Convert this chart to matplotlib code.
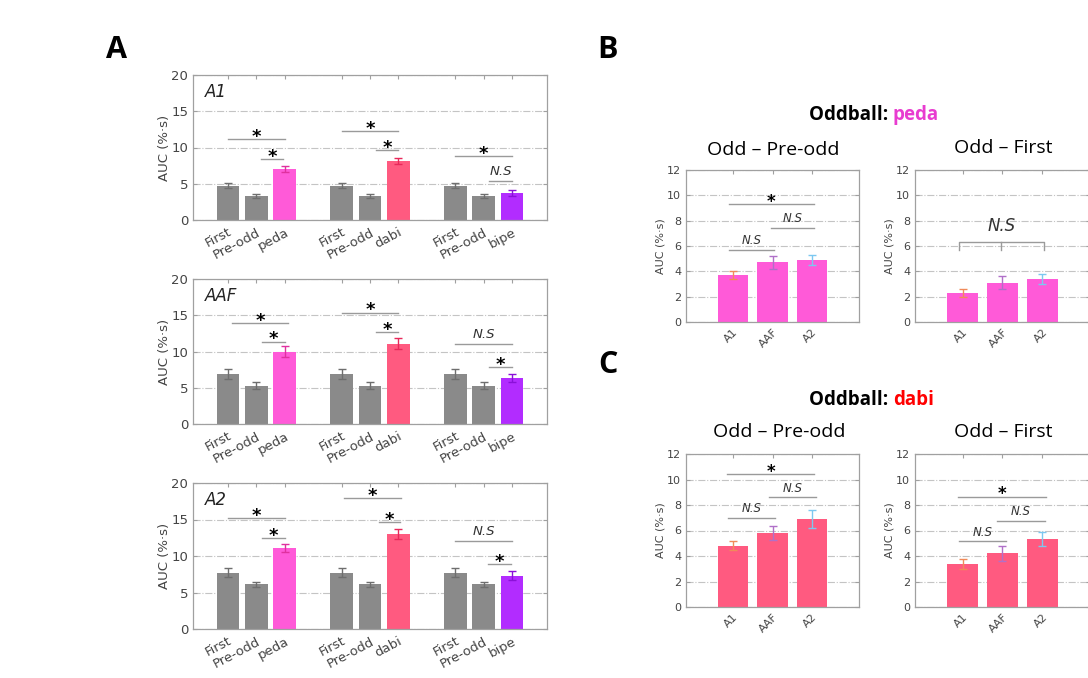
import matplotlib
matplotlib.use("Agg")
import matplotlib.pyplot as plt

W, H = 1088, 678

# ---- data: panel A (AUC per cortical field) ----
a_fields = ["A1", "AAF", "A2"]
a_labels = ["First", "Pre-odd", "peda", "First", "Pre-odd", "dabi", "First", "Pre-odd", "bipe"]
a_vals = {
    "A1":  [4.7, 3.3, 7.0, 4.7, 3.3, 8.1, 4.7, 3.3, 3.7],
    "AAF": [6.9, 5.3, 10.0, 6.9, 5.3, 11.1, 6.9, 5.3, 6.4],
    "A2":  [7.7, 6.1, 11.1, 7.7, 6.1, 13.0, 7.7, 6.1, 7.3],
}
a_errs = {
    "A1":  [0.35, 0.3, 0.4, 0.35, 0.3, 0.4, 0.35, 0.3, 0.45],
    "AAF": [0.65, 0.5, 0.8, 0.65, 0.5, 0.7, 0.65, 0.5, 0.55],
    "A2":  [0.6, 0.4, 0.5, 0.6, 0.4, 0.7, 0.6, 0.4, 0.6],
}
# significance bars: (x0, x1, y, label)
a_sig = {
    "A1": [(0, 2, 11.2, "*"), (1.15, 1.95, 8.4, "*"),
           (4, 6, 12.3, "*"), (5.2, 6, 9.6, "*"),
           (8, 10, 8.8, "*"), (9.2, 10, 5.4, "N.S")],
    "AAF": [(0.15, 2.1, 13.9, "*"), (1.2, 2, 11.35, "*"),
            (4, 6, 15.35, "*"), (5.2, 6, 12.7, "*"),
            (8, 10, 11.0, "N.S"), (9.2, 10, 7.9, "*")],
    "A2": [(0, 2, 15.2, "*"), (1.2, 2, 12.4, "*"),
           (4.1, 6.1, 17.9, "*"), (5.3, 6.05, 14.6, "*"),
           (8, 10, 12.1, "N.S"), (9.15, 9.95, 8.9, "*")],
}

# ---- data: panels B and C (odd-minus-control per field) ----
bc_fields = ["A1", "AAF", "A2"]
b_pre_vals = [3.7, 4.7, 4.9]
b_pre_errs = [0.3, 0.5, 0.4]
b_first_vals = [2.3, 3.1, 3.4]
b_first_errs = [0.3, 0.5, 0.4]
c_pre_vals = [4.8, 5.8, 6.9]
c_pre_errs = [0.35, 0.55, 0.7]
c_first_vals = [3.4, 4.2, 5.3]
c_first_errs = [0.4, 0.6, 0.55]

gray = "#8a8a8a"
peda_c = "#ff5ad8"
dabi_c = "#ff5a80"
bipe_c = "#b22cff"
a_colors = [gray, gray, peda_c, gray, gray, dabi_c, gray, gray, bipe_c]
a_ecolors = ["#6e6e6e", "#6e6e6e", "#e0309f", "#6e6e6e", "#6e6e6e", "#e8285a", "#6e6e6e", "#6e6e6e", "#8a10d8"]
field_ecolors = ["#f08a5a", "#b070c8", "#7cc8f0"]
line_c = "#9a9a9a"
tick_c = "#444444"

fig = plt.figure(figsize=(W / 100, H / 100), dpi=100)


def add_ax(x0, y0, x1, y1):
    return fig.add_axes([x0 / W, 1 - y1 / H, (x1 - x0) / W, (y1 - y0) / H])


def style(ax, fs):
    for s in ax.spines.values():
        s.set_color("#a0a0a0")
        s.set_linewidth(0.9)
    ax.tick_params(direction="in", top=True, right=True, length=3,
                   labelsize=fs, colors="#a0a0a0", labelcolor=tick_c)
    ax.yaxis.grid(True, linestyle="-.", color="#c4c4c4", lw=0.8)
    ax.set_axisbelow(True)


def sig(ax, x0, x1, y, lab, fs_star, fs_ns):
    ax.plot([x0, x1], [y, y], color=line_c, lw=1.0, zorder=3)
    xm = (x0 + x1) / 2
    if lab == "*":
        ax.annotate("*", (xm, y), xytext=(0, -2), textcoords="offset points",
                    ha="center", va="baseline", fontsize=fs_star,
                    fontweight="bold", color="black")
    else:
        ax.annotate(lab, (xm, y), xytext=(0, 2), textcoords="offset points",
                    ha="center", va="bottom", fontsize=fs_ns,
                    style="italic", color="#333333")


# ---- panel A ----
a_pos = [0, 1, 2, 4, 5, 6, 8, 9, 10]
a_rows = {"A1": (75, 220), "AAF": (279, 424), "A2": (483, 629)}
for f in a_fields:
    y0, y1 = a_rows[f]
    ax = add_ax(193, y0, 547, y1)
    style(ax, 9.5)
    ax.bar(a_pos, a_vals[f], width=0.8, color=a_colors, zorder=2)
    for p, v, e, ec in zip(a_pos, a_vals[f], a_errs[f], a_ecolors):
        ax.errorbar(p, v, yerr=e, color=ec, capsize=3, lw=1, zorder=4)
    ax.set_xlim(-1.23, 11.23)
    ax.set_ylim(0, 20)
    ax.set_yticks([0, 5, 10, 15, 20])
    ax.set_xticks(a_pos)
    ax.set_xticklabels(a_labels, rotation=28, ha="right", rotation_mode="anchor",
                       fontsize=9.5)
    ax.tick_params(axis="x", pad=4)
    ax.set_ylabel("AUC (%·s)", fontsize=9.5, color=tick_c, labelpad=0)
    ax.text(-0.8, 17.0, f, fontsize=12, style="italic", color="#222222")
    for x0, x1, y, lab in a_sig[f]:
        sig(ax, x0, x1, y, lab, 13, 9.5)


# ---- panels B, C ----
def bc_panel(x0, y0, x1, y1, vals, errs, color):
    ax = add_ax(x0, y0, x1, y1)
    style(ax, 8)
    pos = [0, 1, 2]
    ax.bar(pos, vals, width=0.78, color=color, zorder=2)
    for p, v, e, ec in zip(pos, vals, errs, field_ecolors):
        ax.errorbar(p, v, yerr=e, color=ec, capsize=3, lw=1, zorder=4)
    ax.set_xlim(-1.19, 3.19)
    ax.set_ylim(0, 12)
    ax.set_yticks(range(0, 13, 2))
    ax.set_xticks(pos)
    ax.set_xticklabels(bc_fields, rotation=45, ha="right", rotation_mode="anchor",
                       fontsize=8)
    ax.set_ylabel("AUC (%·s)", fontsize=8, color=tick_c, labelpad=1)
    return ax


ax = bc_panel(686, 170, 859, 322, b_pre_vals, b_pre_errs, peda_c)
sig(ax, -0.1, 2.05, 9.3, "*", 12, 8.5)
sig(ax, -0.1, 1.05, 5.7, "N.S", 12, 8.5)
sig(ax, 0.95, 2.05, 7.45, "N.S", 12, 8.5)

ax = bc_panel(915, 170, 1090, 322, b_first_vals, b_first_errs, peda_c)
ax.plot([-0.1, -0.1, 2.05, 2.05], [5.7, 6.3, 6.3, 5.7], color=line_c, lw=1.0)
ax.plot([0.97, 0.97], [5.7, 6.3], color=line_c, lw=1.0)
ax.annotate("N.S", (0.97, 6.3), xytext=(0, 5), textcoords="offset points",
            ha="center", va="bottom", fontsize=12, style="italic", color="#333333")

ax = bc_panel(686, 454, 859, 607, c_pre_vals, c_pre_errs, dabi_c)
sig(ax, -0.15, 2.05, 10.4, "*", 12, 8.5)
sig(ax, -0.12, 1.06, 7.0, "N.S", 12, 8.5)
sig(ax, 0.9, 2.1, 8.6, "N.S", 12, 8.5)

ax = bc_panel(915, 454, 1090, 607, c_first_vals, c_first_errs, dabi_c)
sig(ax, -0.12, 2.08, 8.65, "*", 12, 8.5)
sig(ax, -0.1, 1.1, 5.15, "N.S", 12, 8.5)
sig(ax, 0.85, 2.06, 6.75, "N.S", 12, 8.5)


# ---- titles and panel letters ----
def fx(px):
    return px / W


def fy(py):
    return 1 - py / H


for py, word, wc in [(115, "peda", "#e83cd0"), (400, "dabi", "#ff0000")]:
    fig.text(fx(893), fy(py), "Oddball: ", ha="right", va="center",
             fontsize=13.5, fontweight="bold", family="Open Sans")
    fig.text(fx(893), fy(py), word, ha="left", va="center", fontsize=13.5,
             fontweight="bold", color=wc, family="Open Sans")

for px, py, txt in [(773, 150, "Odd – Pre-odd"), (1003, 148, "Odd – First"),
                    (779, 432, "Odd – Pre-odd"), (1003, 432, "Odd – First")]:
    fig.text(fx(px), fy(py), txt, ha="center", va="center", fontsize=14,
             family="Open Sans")

for px, py, txt in [(117, 50, "A"), (608, 50, "B"), (608, 365, "C")]:
    fig.text(fx(px), fy(py), txt, ha="center", va="center", fontsize=22,
             fontweight="bold", family="Open Sans")

fig.savefig("out.png", dpi=100)
